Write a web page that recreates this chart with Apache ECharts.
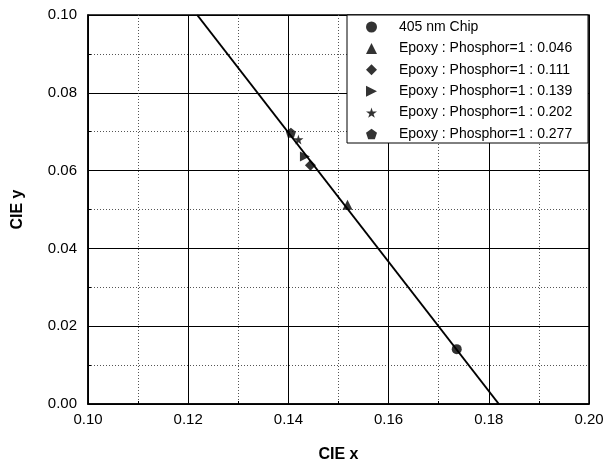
<!DOCTYPE html>
<html>
<head>
<meta charset="utf-8">
<script src="https://cdn.jsdelivr.net/npm/echarts@6/dist/echarts.min.js"></script>
<style>
  html, body { margin: 0; padding: 0; background: #fff; }
  #cie { width: 614px; height: 468px; }
</style>
</head>
<body>
<div id="cie"></div>
<script>
// series names as in the legend
var seriesNames = ['405 nm Chip', 'Epoxy : Phosphor=1 : 0.046', 'Epoxy : Phosphor=1 : 0.111',
  'Epoxy : Phosphor=1 : 0.139', 'Epoxy : Phosphor=1 : 0.202', 'Epoxy : Phosphor=1 : 0.277']
// CIE x / y, one point per series
var pointX = [0.1736, 0.1518, 0.1444, 0.1433, 0.1420, 0.1405]
var pointY = [0.0141, 0.0512, 0.0614, 0.0636, 0.0680, 0.0697]
// fitted line ends
var lineX = [0.1218, 0.1820]
var lineY = [0.10, 0.00]

var symbols = [
  'circle',
  'triangle',
  'diamond',
  'path://M0,0L10,5L0,10Z',
  'path://M50,0L61,35L98,35L68,57L79,91L50,70L21,91L32,57L2,35L39,35Z',
  'path://M50,0L98,35L79,91L21,91L2,35Z'
]
var sizes = [10, 10, 11, 10, 10, 10]

var myChart = echarts.init(document.getElementById('cie'))
var series = []
for (var i = 0; i < seriesNames.length; i++) {
  series.push({
    name: seriesNames[i],
    type: 'scatter',
    symbol: symbols[i],
    symbolSize: sizes[i],
    itemStyle: { color: '#000' },
    z: 5,
    data: [[pointX[i], pointY[i]]]
  })
}
series.push({
  name: 'fit',
  type: 'line',
  symbol: 'none',
  lineStyle: { color: '#000', width: 2 },
  z: 4,
  data: [[lineX[0], lineY[0]], [lineX[1], lineY[1]]]
})

var legendData = []
for (var j = 0; j < seriesNames.length; j++) {
  legendData.push({ name: seriesNames[j], icon: symbols[j] })
}

var fmt = function (v) { return v.toFixed(2) }
var font = 'Liberation Sans, Arial, sans-serif'

var option = {
  backgroundColor: '#fff',
  animation: false,
  textStyle: { fontFamily: font },
  grid: {
    left: 88, right: 25, top: 15, bottom: 64,
    show: true, borderColor: '#000', borderWidth: 1.5
  },
  // legend frame
  graphic: [{
    type: 'rect',
    z: 15,
    shape: { x: 347, y: 15, width: 241, height: 128 },
    style: { fill: '#fff', stroke: '#000', lineWidth: 1 }
  }],
  legend: {
    orient: 'vertical',
    left: 347, top: 15,
    z: 20,
    padding: [5, 10, 5, 19],
    itemWidth: 11, itemHeight: 11,
    itemGap: 7.4,
    textStyle: { color: '#000', fontSize: 14, fontFamily: font, padding: [0, 0, 0, 17] },
    data: legendData
  },
  xAxis: {
    type: 'value',
    min: 0.10, max: 0.20, interval: 0.02,
    name: 'CIE x',
    nameLocation: 'middle',
    nameGap: 43,
    nameTextStyle: { color: '#000', fontSize: 16, fontWeight: 'bold' },
    axisLine: { lineStyle: { color: '#000', width: 1.5 } },
    axisTick: { inside: true, length: 5, lineStyle: { color: '#000' } },
    minorTick: { show: true, splitNumber: 2, length: 3, lineStyle: { color: '#000' } },
    axisLabel: { color: '#000', fontSize: 15, margin: 8, formatter: fmt },
    splitLine: { lineStyle: { color: '#000', width: 1 } },
    minorSplitLine: { show: true, lineStyle: { color: '#555', width: 1, type: [1, 2] } }
  },
  yAxis: {
    type: 'value',
    min: 0, max: 0.10, interval: 0.02,
    name: 'CIE y',
    nameLocation: 'middle',
    nameGap: 62,
    nameTextStyle: { color: '#000', fontSize: 16, fontWeight: 'bold' },
    axisLine: { lineStyle: { color: '#000', width: 1.5 } },
    axisTick: { inside: true, length: 5, lineStyle: { color: '#000' } },
    minorTick: { show: true, splitNumber: 2, length: 3, lineStyle: { color: '#000' } },
    axisLabel: { color: '#000', fontSize: 15, margin: 11, formatter: fmt },
    splitLine: { lineStyle: { color: '#000', width: 1 } },
    minorSplitLine: { show: true, lineStyle: { color: '#555', width: 1, type: [1, 2] } }
  },
  series: series
}
myChart.setOption(option)
</script>
</body>
</html>
